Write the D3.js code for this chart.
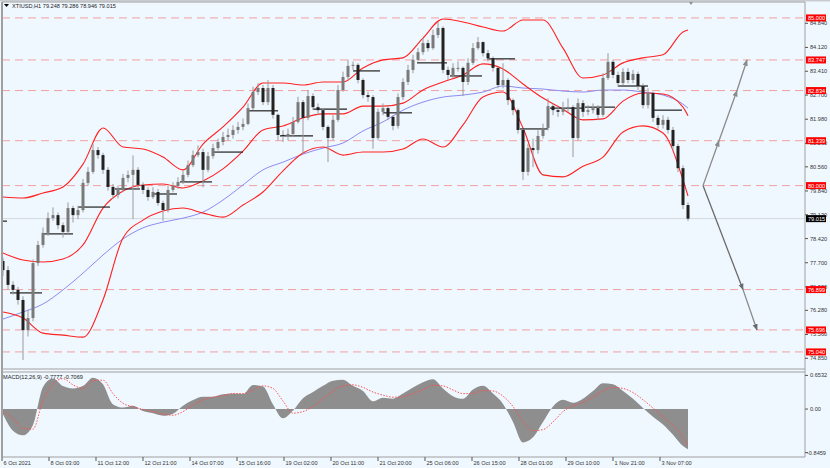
<!DOCTYPE html>
<html><head><meta charset="utf-8">
<script src="https://cdn.jsdelivr.net/npm/d3@7"></script>
<style>body{margin:0;background:#f0f8ff}svg{display:block}text{font-family:"Liberation Sans",Arial,sans-serif}</style>
</head><body><svg id="c" width="830" height="468"></svg>
<script>
// ---------- data ----------
const symbolTitle = "XTIUSD,H1  79.248 79.286 78.946 79.015";
const macdTitle = "MACD(12,26,9) -0.7777 -0.7069";
const firstOpen = 77.75;
const closes = [77.48,77.04,76.89,76.59,75.69,76.05,77.69,78.23,78.59,79.03,
79.12,78.82,78.62,79.33,79.12,79.27,80.08,80.41,81.06,80.91,
80.47,79.96,79.72,79.87,80.23,80.32,80.47,80.02,79.87,79.66,
79.81,79.48,79.27,79.87,79.99,80.11,80.32,80.61,80.91,81.00,
80.47,80.88,81.12,81.30,81.45,81.51,81.66,81.75,81.84,82.31,
82.79,82.91,82.49,82.91,82.11,81.51,81.48,81.54,81.90,82.49,
82.02,82.67,82.34,82.25,81.75,81.42,81.96,82.85,83.24,83.57,
83.60,83.15,82.70,82.64,81.42,82.20,82.31,82.05,81.78,82.64,
83.09,83.45,83.75,83.98,84.25,84.10,84.49,84.70,83.45,83.30,
83.51,83.51,83.09,83.66,84.10,84.28,83.95,83.80,83.51,83.00,
83.15,82.55,82.25,81.66,80.41,81.12,81.06,81.48,81.72,82.37,
82.25,82.20,82.31,82.34,81.42,82.46,82.20,82.25,82.31,82.11,
83.21,83.69,83.30,83.06,83.39,83.15,83.33,82.97,82.40,82.76,
82.02,81.81,81.96,81.66,81.18,80.52,79.42,79.015];
const highs = [77.85,77.60,77.15,76.98,76.70,76.30,77.80,78.35,78.75,79.20,
79.35,79.20,78.90,79.50,79.40,79.40,80.20,80.55,81.24,81.15,
80.98,80.55,80.05,80.00,80.35,80.45,80.90,80.55,80.10,79.95,
79.95,79.90,79.55,80.00,80.10,80.25,80.45,80.75,81.05,81.20,
81.10,81.00,81.25,81.40,81.60,81.70,81.80,81.90,82.00,82.45,
82.95,83.05,83.00,83.15,83.00,82.15,81.65,81.70,82.05,82.65,
82.55,82.85,82.75,82.45,82.30,81.80,82.10,83.00,83.40,83.75,
83.70,83.65,83.20,82.80,82.70,82.30,82.45,82.40,82.10,82.75,
83.20,83.60,83.90,84.10,84.40,84.35,84.65,84.88,84.75,83.55,
83.65,83.70,83.55,83.80,84.25,84.43,84.30,84.05,83.85,83.55,
83.65,83.20,82.60,82.30,81.70,81.25,81.40,81.65,81.85,82.60,
82.45,82.35,82.50,82.60,82.40,82.60,82.55,82.40,82.45,82.40,
83.35,83.95,83.75,83.40,83.50,83.50,83.45,83.40,83.05,82.90,
82.80,82.10,82.10,82.05,81.75,81.25,80.60,79.50];
const lows = [77.30,76.90,76.75,76.45,74.80,75.50,75.95,77.60,78.15,78.50,
78.95,78.70,78.45,78.55,78.90,79.00,79.20,80.00,80.35,80.80,
80.35,79.85,79.60,79.62,79.80,80.10,79.00,79.90,79.75,79.55,
79.60,79.40,78.95,79.20,79.80,79.90,80.05,80.25,80.55,80.85,
79.95,80.40,80.80,81.05,81.20,81.35,81.40,81.55,81.65,81.80,
82.25,82.70,82.40,82.40,82.00,81.35,81.30,81.35,81.45,81.85,
80.95,81.95,82.25,82.10,81.65,80.70,81.35,81.90,82.80,83.15,
83.45,83.05,82.60,82.50,81.10,81.35,82.10,81.95,81.65,81.70,
82.55,83.00,83.35,83.70,83.90,84.00,84.05,84.40,83.35,83.15,
83.20,83.40,82.67,83.00,83.60,84.05,83.85,83.70,83.40,82.90,
82.90,82.40,82.10,81.55,80.17,80.30,80.55,80.95,81.40,81.65,
82.10,82.05,82.10,82.20,80.85,81.35,82.05,82.10,82.15,81.95,
82.05,83.15,83.20,82.95,83.00,83.05,83.05,82.85,82.30,82.30,
81.90,81.70,81.70,81.55,81.05,80.40,79.30,78.946];

// indicator lines sampled every 4 bars (bar index)
const bandIdx = [0,4,8,12,16,20,24,28,32,36,40,44,48,52,56,60,64,68,72,76,80,84,88,92,96,100,104,108,112,116,120,124,128,132,136,137];
const bbUpper = [79.66,79.63,79.78,79.96,80.64,81.72,81.15,81.09,80.85,80.47,81.24,81.75,82.34,83.06,83.06,83.00,83.09,83.09,83.51,83.75,83.81,84.40,84.97,84.88,84.73,84.61,84.94,84.94,84.10,83.21,83.30,83.66,83.81,83.90,84.58,84.64];
const bbMiddle = [77.99,77.78,77.72,77.81,78.23,79.33,79.84,80.02,80.05,79.93,80.14,80.50,81.03,81.66,81.78,82.02,82.14,82.14,82.37,82.37,82.46,82.85,83.09,83.30,83.63,83.48,83.03,82.61,82.28,81.96,81.99,82.52,82.76,82.73,82.34,82.08];
const bbLower = [76.23,76.05,75.60,75.54,75.48,76.59,78.44,78.97,79.24,79.33,79.18,79.06,79.42,79.81,80.44,80.97,81.15,80.91,81.00,81.00,81.09,81.39,81.15,81.81,82.64,82.79,81.72,80.32,80.26,80.58,80.85,81.60,81.78,81.57,80.17,79.69];
const maSlow = [76.02,76.23,76.47,76.89,77.39,77.93,78.41,78.74,78.91,79.03,79.21,79.57,80.02,80.47,80.70,80.94,81.12,81.27,81.63,81.90,82.25,82.49,82.64,82.70,82.79,82.97,82.91,82.88,82.82,82.79,82.85,82.85,82.79,82.70,82.43,82.31];

// daily reference segments: start bar, end bar, price
const dayStart = [-0.6,1.4,8,15,22.4,30,35.4,42,48.8,55.4,62,70,76,82.8,89.4,96.8,103.4,109.4,116.4,123,129.8];
const dayEnd   = [0.8,7.8,14,21.4,27.4,34.8,41.8,48,55,62,68.8,75.4,81.8,88.8,95.8,102.4,109,115.8,122.4,129,135.8];
const dayPrice = [78.94,76.80,78.56,79.36,79.90,79.75,80.11,81.00,82.23,81.48,82.28,83.42,82.17,83.66,83.27,83.78,81.69,82.31,82.34,82.97,82.25];

// horizontal levels & axis
const levels = [85.000,83.747,82.834,81.339,80.000,76.899,75.696,75.040];
const lastPrice = 79.015;
const priceTicks = [84.840,84.120,83.410,82.700,81.980,81.260,80.560,79.840,79.130,78.420,77.700,76.980,76.280,75.560,74.850];

// projection paths (bar index, price)
const upIdx = [140,143.2,146.8,148.8];
const upPrice = [80.000,81.339,82.834,83.747];
const downIdx = [140,148,150.8];
const downPrice = [80.000,76.899,75.696];

// MACD sampled every 2 bars
const macdIdx = d3.range(0,137,2).concat([137]);
const macdHist = [-0.10,-0.42,-0.51,-0.31,0.43,0.595,0.445,0.40,0.45,0.61,
0.48,0.09,0.03,0.065,-0.04,-0.084,-0.13,-0.09,0.065,0.175,
0.24,0.24,0.285,0.30,0.29,0.466,0.44,0.09,-0.18,-0.03,
0.21,0.33,0.45,0.55,0.57,0.45,0.35,0.15,0.22,0.20,
0.30,0.42,0.52,0.58,0.40,0.25,0.20,0.38,0.45,0.30,
0.10,-0.25,-0.65,-0.55,-0.25,0.05,0.18,0.12,0.20,0.35,
0.50,0.48,0.35,0.20,0.02,-0.15,-0.30,-0.50,-0.72,-0.78];
const macdSignal = [-0.05,-0.18,-0.375,-0.39,0.175,0.49,0.59,0.47,0.40,0.55,
0.56,0.30,0.11,0.045,-0.006,-0.05,-0.10,-0.12,-0.05,0.078,
0.175,0.23,0.26,0.30,0.30,0.37,0.45,0.40,0.155,-0.08,
-0.05,0.05,0.20,0.35,0.45,0.47,0.42,0.33,0.27,0.23,
0.24,0.30,0.38,0.46,0.45,0.37,0.30,0.30,0.36,0.35,
0.25,0.05,-0.25,-0.42,-0.40,-0.25,-0.05,0.06,0.13,0.23,
0.35,0.42,0.40,0.32,0.18,0.02,-0.15,-0.32,-0.55,-0.71];
const macdTicks = [0.6532,0.00,-0.8459];

const timeLabels = ["6 Oct 2021","8 Oct 03:00","11 Oct 12:00","12 Oct 21:00","14 Oct 07:00","15 Oct 16:00","19 Oct 02:00","20 Oct 11:00","21 Oct 20:00","25 Oct 06:00","26 Oct 15:00","28 Oct 01:00","29 Oct 10:00","1 Nov 21:00","3 Nov 07:00"];
const timeIdx = [-0.2,9.2,18.6,28,37.4,46.8,56.2,65.6,75,84.4,93.8,103.2,112.6,122,131.4];

// ---------- layout ----------
const W = 830, H = 468, FS = 5.6;
const plotL = 2, plotR = 805, mainT = 2, mainB = 369, macdT = 372, macdB = 457;
const svg = d3.select("#c");
const x = d3.scaleLinear().domain([0,137]).range([3,688]);
const y = d3.scaleLinear().domain([74.85,84.84]).range([358.3,23.3]);
const ym = d3.scaleLinear().domain([-0.8459,0.6532]).range([452.6,375.4]);

svg.append("rect").attr("width",W).attr("height",H).attr("fill","#f0f8ff");
const defs = svg.append("defs");
defs.append("clipPath").attr("id","cm").append("rect").attr("x",plotL).attr("y",mainT).attr("width",plotR-plotL).attr("height",mainB-mainT);
defs.append("clipPath").attr("id","cd").append("rect").attr("x",plotL).attr("y",macdT).attr("width",plotR-plotL).attr("height",macdB-macdT);
["ag","ad"].forEach((id,k)=>{
  defs.append("marker").attr("id",id).attr("viewBox","0 0 10 10").attr("refX",9).attr("refY",5)
   .attr("markerWidth",5).attr("markerHeight",5).attr("orient","auto")
   .append("path").attr("d","M0,1L10,5L0,9z").attr("fill",k?"#6a6a6a":"#8a8a8a");
});

const main = svg.append("g").attr("clip-path","url(#cm)");

// level lines
main.selectAll(".lv").data(levels).join("line")
  .attr("x1",plotL).attr("x2",plotR).attr("y1",d=>y(d)).attr("y2",d=>y(d))
  .attr("stroke","#f2a0a0").attr("stroke-width",1).attr("stroke-dasharray","8,5");
// last price line
main.append("line").attr("x1",plotL).attr("x2",plotR).attr("y1",y(lastPrice)).attr("y2",y(lastPrice))
  .attr("stroke","#d4d8dc").attr("stroke-width",1);

// indicator lines
const ln = (arr)=>d3.line().x((d,i)=>x(bandIdx[i])).y(d=>y(d)).curve(d3.curveMonotoneX)(arr);
main.append("path").attr("d",ln(maSlow)).attr("fill","none").attr("stroke","#8c8cf0").attr("stroke-width",1);
[bbUpper,bbMiddle,bbLower].forEach(a=>{
  main.append("path").attr("d",ln(a)).attr("fill","none").attr("stroke","#ff2020").attr("stroke-width",1.1);
});

// day segments
main.selectAll(".ds").data(dayPrice).join("line")
  .attr("x1",(d,i)=>x(dayStart[i])).attr("x2",(d,i)=>x(dayEnd[i]))
  .attr("y1",d=>y(d)).attr("y2",d=>y(d)).attr("stroke","#202020").attr("stroke-width",1.2);

// candles
const bars = closes.map((c,i)=>({i,o:i?closes[i-1]:firstOpen,c,h:highs[i],l:lows[i]}));
const cg = main.append("g");
cg.selectAll(".wk").data(bars).join("line")
  .attr("x1",d=>x(d.i)).attr("x2",d=>x(d.i)).attr("y1",d=>y(d.h)).attr("y2",d=>y(d.l))
  .attr("stroke","#9a9a9a").attr("stroke-width",1);
cg.selectAll(".bd").data(bars).join("rect")
  .attr("x",d=>x(d.i)-1.5).attr("width",3)
  .attr("y",d=>y(Math.max(d.o,d.c))).attr("height",d=>Math.max(1,Math.abs(y(d.o)-y(d.c))))
  .attr("fill",d=>d.c>=d.o?"#7a7a7a":"#222");

// projection paths
const pl = d3.line().x(d=>x(d[0])).y(d=>y(d[1]));
const upPts = upIdx.map((v,i)=>[v,upPrice[i]]);
for(let k=0;k<upPts.length-1;k++){
  main.append("path").attr("d",pl([upPts[k],upPts[k+1]])).attr("stroke","#8a8a8a").attr("stroke-width",1.3)
   .attr("fill","none").attr("marker-end","url(#ag)");
}
const dnPts = downIdx.map((v,i)=>[v,downPrice[i]]);
for(let k=0;k<dnPts.length-1;k++){
  main.append("path").attr("d",pl([dnPts[k],dnPts[k+1]])).attr("stroke",k?"#8a8a8a":"#6a6a6a").attr("stroke-width",1.3)
   .attr("fill","none").attr("marker-end","url(#ad)");
}

// MACD panel
const mg = svg.append("g").attr("clip-path","url(#cd)");
mg.append("path").attr("d",d3.area().x((d,i)=>x(macdIdx[i])).y0(ym(0)).y1(d=>ym(d)).curve(d3.curveMonotoneX)(macdHist))
  .attr("fill","#8e8e8e");
mg.append("path").attr("d",d3.line().x((d,i)=>x(macdIdx[i])).y(d=>ym(d)).curve(d3.curveMonotoneX)(macdSignal))
  .attr("fill","none").attr("stroke","#ff5050").attr("stroke-width",1).attr("stroke-dasharray","1.5,1.5");

// frames
const fr = "#a0a0a0";
svg.append("rect").attr("x",0).attr("y",0).attr("width",W).attr("height",1.5).attr("fill","#c8ccd0");
svg.append("line").attr("x1",plotL).attr("x2",plotR).attr("y1",mainT).attr("y2",mainT).attr("stroke",fr);
svg.append("line").attr("x1",plotL).attr("x2",plotL).attr("y1",mainT).attr("y2",macdB).attr("stroke",fr).attr("stroke-width",2);
svg.append("line").attr("x1",plotR).attr("x2",plotR).attr("y1",mainT).attr("y2",macdB).attr("stroke",fr);
svg.append("line").attr("x1",plotL).attr("x2",plotR).attr("y1",mainB).attr("y2",mainB).attr("stroke",fr);
svg.append("line").attr("x1",plotL).attr("x2",plotR).attr("y1",macdT).attr("y2",macdT).attr("stroke",fr);
svg.append("line").attr("x1",plotL).attr("x2",plotR).attr("y1",macdB).attr("y2",macdB).attr("stroke",fr);
svg.append("path").attr("d",`M${x(137)+1},2l4,0l-2,3z`).attr("fill","#909090");

// price axis
const ax = svg.append("g");
ax.selectAll(".pt").data(priceTicks).join("line").attr("x1",plotR).attr("x2",plotR+3)
  .attr("y1",d=>y(d)).attr("y2",d=>y(d)).attr("stroke","#555");
ax.selectAll(".ptl").data(priceTicks).join("text").attr("x",plotR+5).attr("y",d=>y(d)+2)
  .attr("font-size",FS).attr("fill","#333").text(d=>d.toFixed(3));
const lvg = ax.selectAll(".lvb").data(levels).join("g").attr("transform",d=>`translate(${plotR+1},${y(d)})`);
lvg.append("rect").attr("x",0).attr("y",-3.5).attr("width",20).attr("height",7).attr("fill","#ff0000");
lvg.append("text").attr("x",2).attr("y",2).attr("font-size",FS).attr("fill","#fff").text(d=>d.toFixed(3));
const lp = ax.append("g").attr("transform",`translate(${plotR+1},${y(lastPrice)})`);
lp.append("rect").attr("x",0).attr("y",-3.5).attr("width",20).attr("height",7).attr("fill","#000");
lp.append("text").attr("x",2).attr("y",2).attr("font-size",FS).attr("fill","#fff").text(lastPrice.toFixed(3));

// macd axis
ax.selectAll(".mt").data(macdTicks).join("line").attr("x1",plotR).attr("x2",plotR+3)
  .attr("y1",d=>ym(d)).attr("y2",d=>ym(d)).attr("stroke","#555");
ax.selectAll(".mtl").data(macdTicks).join("text").attr("x",d=>d<0?plotR+2:plotR+5).attr("y",d=>ym(d)+2)
  .attr("font-size",FS).attr("fill","#333").text(d=>d===0?"0.00":d.toFixed(4));

// time axis
const tg = svg.append("g");
tg.selectAll(".tt").data(timeIdx).join("line").attr("x1",d=>x(d)).attr("x2",d=>x(d)).attr("y1",macdB).attr("y2",macdB+4).attr("stroke","#555");
tg.selectAll(".ttl").data(timeLabels).join("text").attr("x",(d,i)=>x(timeIdx[i])+1.5).attr("y",465)
  .attr("font-size",FS).attr("fill","#333").text(d=>d);

// titles
svg.append("path").attr("d","M4,4l5,0l-2.5,3z").attr("fill","#000");
svg.append("text").attr("x",12).attr("y",8).attr("font-size",FS).attr("fill","#222").text(symbolTitle);
svg.append("text").attr("x",3).attr("y",379).attr("font-size",FS).attr("fill","#222").text(macdTitle);
</script></body></html>
